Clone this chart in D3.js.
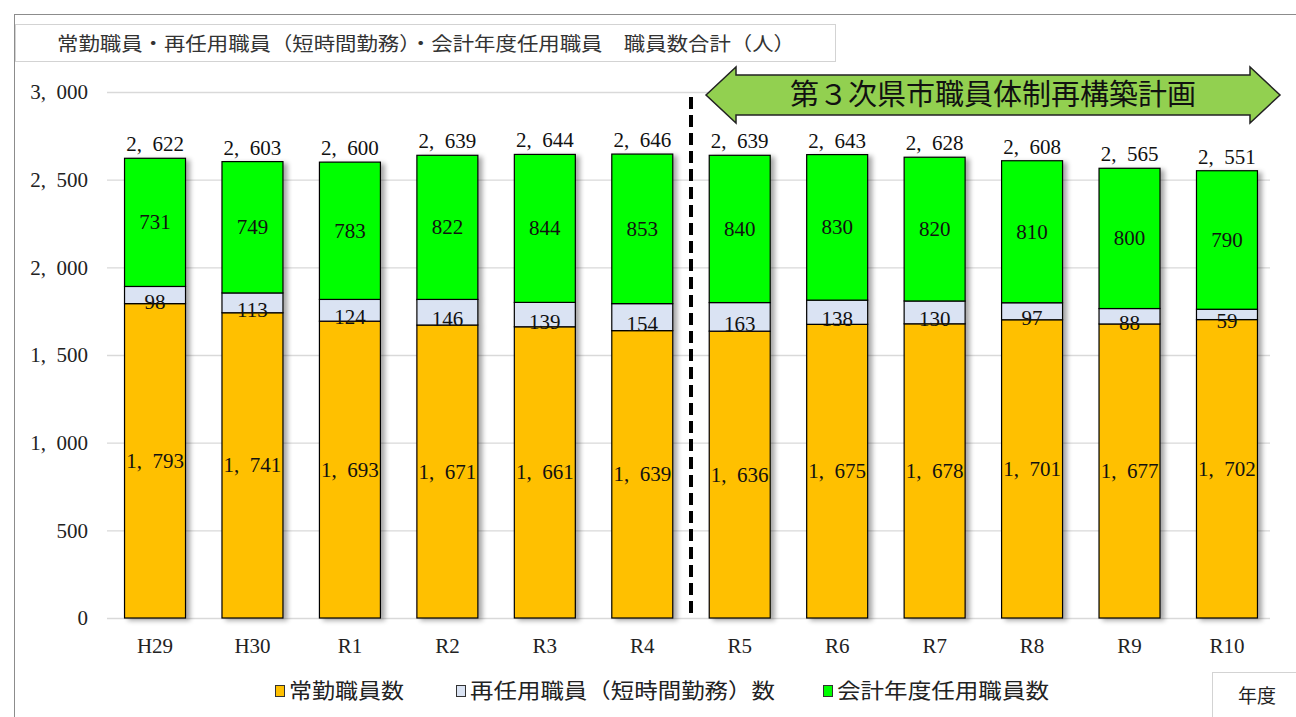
<!DOCTYPE html>
<html><head><meta charset="utf-8">
<script src="https://cdn.jsdelivr.net/npm/d3@7"></script>
<style>body{margin:0;background:#fff}svg{display:block}</style>
</head><body>
<svg id="c" width="1296" height="717"></svg>
<script>
const categories = ["H29","H30","R1","R2","R3","R4","R5","R6","R7","R8","R9","R10"];
const regular = [1793,1741,1693,1671,1661,1639,1636,1675,1678,1701,1677,1702];
const reappointed = [98,113,124,146,139,154,163,138,130,97,88,59];
const fiscalYear = [731,749,783,822,844,853,840,830,820,810,800,790];
const totals = [2622,2603,2600,2639,2644,2646,2639,2643,2628,2608,2565,2551];
const yTicks = [0,500,1000,1500,2000,2500,3000];
const seriesNames = ["常勤職員数","再任用職員（短時間勤務）数","会計年度任用職員数"];
const seriesColors = ["#FFC000","#DAE3F3","#00FF00"];
const title = "常勤職員・再任用職員（短時間勤務）・会計年度任用職員　職員数合計（人）";
const planLabel = "第３次県市職員体制再構築計画";
const planStart = "R5";
const xUnit = "年度";

const svg = d3.select("#c");
const serif = "'Liberation Serif','DejaVu Serif',serif";
const cjk = "'Noto Sans CJK JP','Noto Sans',sans-serif";
const fmt = v => d3.format(",")(v).replace(",", ",\u2002");

const defs = svg.append("defs");
const f = defs.append("filter").attr("id","sh").attr("x","-20%").attr("y","-5%").attr("width","150%").attr("height","115%");
f.append("feGaussianBlur").attr("in","SourceAlpha").attr("stdDeviation",2.5).attr("result","b");
f.append("feOffset").attr("in","b").attr("dx",4).attr("dy",2).attr("result","o");
f.append("feComponentTransfer").attr("in","o").attr("result","o2").append("feFuncA").attr("type","linear").attr("slope",0.35);
const m = f.append("feMerge"); m.append("feMergeNode").attr("in","o2"); m.append("feMergeNode").attr("in","SourceGraphic");

// outer frame
svg.append("rect").attr("x",14.5).attr("y",14.5).attr("width",1300).attr("height",720).attr("fill","none").attr("stroke","#8c8c8c").attr("stroke-width",1);

// title box
svg.append("rect").attr("x",15.5).attr("y",24.5).attr("width",820).attr("height",37).attr("fill","#fff").attr("stroke","#a6a6a6").attr("stroke-dasharray","1,1");
svg.append("text").attr("x",57).attr("y",51).attr("font-family",cjk).attr("font-size",19).attr("fill","#333")
  .attr("textLength",738).attr("lengthAdjust","spacingAndGlyphs").text(title);

const x = d3.scaleBand().domain(categories).range([106.3,1275.7]).paddingInner(0.364).paddingOuter(0.182);
const y = d3.scaleLinear().domain([0,3000]).range([618,92]);

// gridlines
const yAxis = d3.axisLeft(y).tickValues(yTicks).tickSize(-(1270-107)).tickFormat(fmt);
const ga = svg.append("g").attr("transform","translate(107,0)").call(yAxis);
ga.select(".domain").remove();
ga.selectAll(".tick line").attr("stroke","#d9d9d9").attr("stroke-width",1.3);
ga.selectAll(".tick text").attr("x",-19).attr("font-family",serif).attr("font-size",21).attr("fill","#222");

// x labels
const xAxis = d3.axisBottom(x).tickSize(0);
const gx = svg.append("g").attr("transform","translate(0,618)").call(xAxis);
gx.select(".domain").remove();
gx.selectAll(".tick text").attr("dy",0).attr("y",35).attr("font-family",serif).attr("font-size",21).attr("fill","#222");

const stacks = [regular, reappointed, fiscalYear];
const data = categories.map((c,i)=>({c, v:stacks.map(s=>s[i])}));
const bars = svg.append("g");
data.forEach((d)=>{
  let base = 0;
  const g = bars.append("g").attr("filter","url(#sh)");
  d.v.forEach((v,k)=>{
    g.append("rect").attr("x",x(d.c)+0.5).attr("width",x.bandwidth()-1)
      .attr("y",y(base+v)).attr("height",y(base)-y(base+v))
      .attr("fill",seriesColors[k]).attr("stroke","#000").attr("stroke-width",1.2);
    base += v;
  });
});
// labels
data.forEach((d,i)=>{
  let base = 0;
  const cx = x(d.c)+x.bandwidth()/2;
  d.v.forEach((v,k)=>{
    const cy = y(base+v/2);
    svg.append("text").attr("x",cx).attr("y",cy + (k===1?14:7)).attr("text-anchor","middle")
      .attr("font-family",serif).attr("font-size",21).attr("fill","#111").text(fmt(v));
    base += v;
  });
  svg.append("text").attr("x",cx).attr("y",y(totals[i])-7).attr("text-anchor","middle")
    .attr("font-family",serif).attr("font-size",21).attr("fill","#111").text(fmt(totals[i]));
});

// dashed divider
const dx = (x("R4")+x.bandwidth() + x(planStart))/2;
svg.append("line").attr("x1",dx).attr("x2",dx).attr("y1",97).attr("y2",618).attr("stroke","#000").attr("stroke-width",4).attr("stroke-dasharray","12,6");

// arrow
const ax0 = 706, ax1 = 1280, ay = 95, headW = 30, bodyH = 20, headH = 28;
const pts = [[ax0,ay],[ax0+headW,ay-headH],[ax0+headW,ay-bodyH],[ax1-headW,ay-bodyH],[ax1-headW,ay-headH],[ax1,ay],
             [ax1-headW,ay+headH],[ax1-headW,ay+bodyH],[ax0+headW,ay+bodyH],[ax0+headW,ay+headH]];
svg.append("path").attr("d",d3.line()(pts)+"Z").attr("fill","#92D050").attr("stroke","#222").attr("stroke-width",1.5).attr("stroke-linejoin","miter");
svg.append("text").attr("x",(ax0+ax1)/2).attr("y",ay+10).attr("text-anchor","middle").attr("font-family",cjk).attr("font-size",29).attr("fill","#111").text(planLabel);

// legend
const lg = svg.append("g");
const lx = [275, 456, 823];
const lw = [115, 305, 212];
seriesNames.forEach((n,k)=>{
  lg.append("rect").attr("x",lx[k]+0.5).attr("y",685.5).attr("width",9).attr("height",11).attr("fill",seriesColors[k]).attr("stroke","#333").attr("stroke-width",1);
  lg.append("text").attr("x",lx[k]+14).attr("y",698).attr("font-family",cjk).attr("font-size",21).attr("fill","#222")
    .attr("textLength",lw[k]).attr("lengthAdjust","spacingAndGlyphs").text(n);
});

// unit box
svg.append("rect").attr("x",1212.5).attr("y",672.5).attr("width",90).attr("height",50).attr("fill","#fff").attr("stroke","#a6a6a6").attr("stroke-dasharray","1,1");
svg.append("text").attr("x",1257).attr("y",703).attr("text-anchor","middle").attr("font-family",cjk).attr("font-size",19).attr("fill","#222").text(xUnit);
</script>
</body></html>
